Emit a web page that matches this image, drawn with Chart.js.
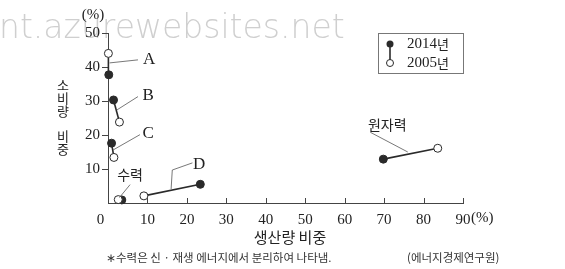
<!DOCTYPE html>
<html>
<head>
<meta charset="utf-8">
<script src="https://cdn.jsdelivr.net/npm/chart.js@4.4.1/dist/chart.umd.min.js"></script>
<style>
  html, body { margin: 0; padding: 0; background: #fff; }
  #wrap { width: 565px; height: 269px; position: relative; }
</style>
</head>
<body>
<div id="wrap"><canvas id="chart" width="565" height="269"></canvas></div>
<script>
// energy sources (A-D are unnamed in the original)
var sources = ['A', 'B', 'C', '수력', 'D', '원자력'];
// 생산량 비중 (x) and 소비량 비중 (y), percent
var prod2014 = [0.2, 1.4, 0.9, 3.5, 23.4, 69.8];
var cons2014 = [37.7, 30.3, 17.6, 0.9, 5.5, 12.9];
var prod2005 = [0.1, 2.9, 1.5, 2.6, 9.1, 83.6];
var cons2005 = [44.0, 23.8, 13.4, 1.0, 2.1, 16.1];
var xTicks = [0, 10, 20, 30, 40, 50, 60, 70, 80, 90];
var yTicks = [10, 20, 30, 40, 50];

// label anchors + leader lines, in data units
var labels = [
  { text: 'A', font: 'serif', at: [10.4, 42.1], line: [[0.4, 41.2], [7.6, 42.1]] },
  { text: 'B', font: 'serif', at: [10.2, 31.6], line: [[2.3, 27.4], [7.6, 31.3]] },
  { text: 'C', font: 'serif', at: [10.2, 20.4], line: [[1.3, 15.6], [8.1, 20.1]] },
  { text: 'D', font: 'serif', at: [23.1, 11.3], line: [[16.0, 4.1], [16.3, 9.7], [21.4, 11.8]] },
  { text: '수력', font: 'sans', at: [5.6, 8.3], line: [[5.6, 5.4], [2.9, 1.6]] },
  { text: '원자력', font: 'sans', at: [70.8, 23.0], line: [[66.5, 20.8], [76.0, 15.0]] }
];

var SERIF = '"Liberation Serif", "DejaVu Serif", serif';
var KR = '"Noto Sans CJK KR", "Noto Sans", sans-serif';
var INK = '#2a2a2a';

var datasets = sources.map(function(name, i) {
  return {
    label: name,
    data: [{ x: prod2014[i], y: cons2014[i] }, { x: prod2005[i], y: cons2005[i] }],
    showLine: true,
    borderColor: INK,
    borderWidth: 1.6,
    pointRadius: 4,
    pointBorderWidth: 1,
    pointBorderColor: INK,
    pointBackgroundColor: [INK, '#fff'],
    clip: false
  };
});

var overlay = {
  id: 'overlay',
  beforeDraw: function(chart) {
    var ctx = chart.ctx;
    ctx.save();
    ctx.fillStyle = 'rgba(175,175,175,0.6)';
    ctx.font = '200 33px "DejaVu Sans", sans-serif';
    ctx.textBaseline = 'alphabetic';
    ctx.textAlign = 'left';
    ctx.fillText('nt.azurewebsites.net', -1, 38);
    ctx.restore();
  },
  afterDraw: function(chart) {
    var ctx = chart.ctx;
    var xs = chart.scales.x, ys = chart.scales.y;
    var area = chart.chartArea;
    ctx.save();

    // x ticks point inward
    ctx.strokeStyle = '#444';
    ctx.lineWidth = 1;
    xTicks.forEach(function(v) {
      if (v === 0) return;
      var px = Math.round(xs.getPixelForValue(v)) + 0.5;
      ctx.beginPath();
      ctx.moveTo(px, area.bottom);
      ctx.lineTo(px, area.bottom - 5);
      ctx.stroke();
    });

    // leader lines and labels
    ctx.strokeStyle = '#555';
    ctx.lineWidth = 0.8;
    labels.forEach(function(l) {
      ctx.beginPath();
      l.line.forEach(function(p, k) {
        var px = xs.getPixelForValue(p[0]), py = ys.getPixelForValue(p[1]);
        if (k === 0) ctx.moveTo(px, py); else ctx.lineTo(px, py);
      });
      ctx.stroke();
      ctx.fillStyle = '#222';
      ctx.textAlign = 'center';
      ctx.textBaseline = 'middle';
      ctx.font = l.font === 'serif' ? '17px ' + SERIF : '14px ' + KR;
      ctx.fillText(l.text, xs.getPixelForValue(l.at[0]), ys.getPixelForValue(l.at[1]));
    });

    // unit marks
    ctx.fillStyle = '#222';
    ctx.font = '15px ' + SERIF;
    ctx.textAlign = 'center';
    ctx.fillText('(%)', 93, 15);
    ctx.textAlign = 'left';
    ctx.fillText('(%)', xs.getPixelForValue(90) + 8, 218);

    // y title, stacked vertically
    ctx.font = '13px ' + KR;
    ctx.textAlign = 'center';
    var yt = [['소', 85], ['비', 98], ['량', 111], ['비', 136], ['중', 149]];
    yt.forEach(function(c) { ctx.fillText(c[0], 63, c[1]); });

    // x title
    ctx.font = '15px ' + KR;
    ctx.fillText('생산량 비중', 290, 237);

    // footnotes
    ctx.fillStyle = '#333';
    ctx.font = '11.5px ' + KR;
    ctx.textAlign = 'left';
    ctx.fillText('∗수력은 신 · 재생 에너지에서 분리하여 나타냄.', 106, 258);
    ctx.fillText('(에너지경제연구원)', 407, 258);

    // legend box
    ctx.strokeStyle = '#777';
    ctx.lineWidth = 1;
    ctx.strokeRect(378.5, 33.5, 85, 40);
    ctx.strokeStyle = INK;
    ctx.lineWidth = 1.6;
    ctx.beginPath();
    ctx.moveTo(390, 44);
    ctx.lineTo(390, 62);
    ctx.stroke();
    ctx.lineWidth = 1;
    ctx.fillStyle = INK;
    ctx.beginPath(); ctx.arc(390, 44, 3.5, 0, Math.PI * 2); ctx.fill();
    ctx.fillStyle = '#fff';
    ctx.beginPath(); ctx.arc(390, 63, 3.5, 0, Math.PI * 2); ctx.fill(); ctx.stroke();
    ctx.fillStyle = '#222';
    ctx.font = '15px ' + SERIF;
    ctx.fillText('2014', 407, 44);
    ctx.fillText('2005', 407, 63);
    var w = ctx.measureText('2014').width;
    ctx.font = '13px ' + KR;
    ctx.fillText('년', 407 + w, 44);
    ctx.fillText('년', 407 + w, 63);

    ctx.restore();
  }
};

new Chart(document.getElementById('chart'), {
  type: 'scatter',
  data: { datasets: datasets },
  options: {
    responsive: false,
    animation: false,
    events: [],
    layout: { padding: { left: 68, right: 102, top: 33, bottom: 36 } },
    plugins: { legend: { display: false }, tooltip: { enabled: false } },
    scales: {
      x: {
        type: 'linear',
        min: 0,
        max: 90,
        afterBuildTicks: function(s) { s.ticks = xTicks.map(function(v) { return { value: v }; }); },
        afterFit: function(s) { s.height = 30; },
        grid: { display: false, drawTicks: false },
        border: { display: true, color: '#444', width: 1 },
        ticks: {
          color: '#222', font: { family: SERIF, size: 15 }, padding: 8, maxRotation: 0,
          // the origin label sits a little left of the axis corner
          callback: function(v) { return v === 0 ? '0\u2003' : String(v); }
        }
      },
      y: {
        type: 'linear',
        min: 0,
        max: 50,
        afterBuildTicks: function(s) { s.ticks = yTicks.map(function(v) { return { value: v }; }); },
        afterFit: function(s) { s.width = 40; },
        grid: { drawOnChartArea: false, drawTicks: true, tickLength: 6, color: '#444' },
        border: { display: true, color: '#444', width: 1 },
        ticks: { color: '#222', font: { family: SERIF, size: 15 }, padding: 2 }
      }
    }
  },
  plugins: [overlay]
});
</script>
</body>
</html>
